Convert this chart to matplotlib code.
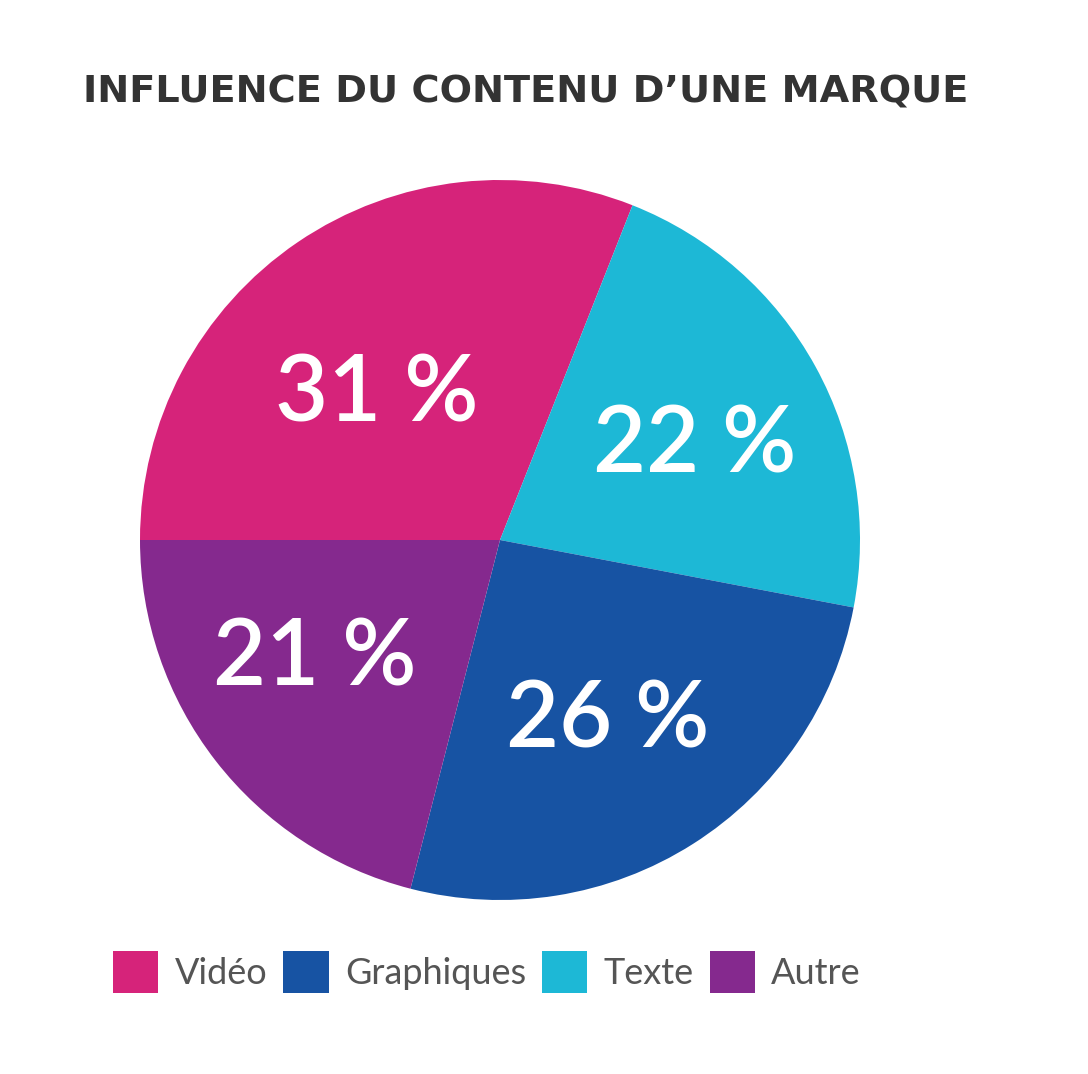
import matplotlib.pyplot as plt

# data (clockwise from the left horizontal)
labels = ["Vidéo", "Texte", "Graphiques", "Autre"]
values = [31, 22, 26, 21]
colors = ["#D6237A", "#1DB8D6", "#1753A3", "#85298E"]
legend_order = ["Vidéo", "Graphiques", "Texte", "Autre"]
# small hand nudges of the percentage labels, in pixels (x right, y down)
label_nudge = [(-8, 25), (15, 5), (-2, 8), (-23, -6)]

plt.rcParams['font.family'] = ['Lato', 'DejaVu Sans']

fig = plt.figure(figsize=(10.88, 10.74), dpi=100)
ax = fig.add_axes([140 / 1088, 1 - 900 / 1074, 720 / 1088, 720 / 1074])

wedges, texts, autotexts = ax.pie(
    values, colors=colors, startangle=180, counterclock=False,
    autopct=lambda p: f"{round(p)} %", pctdistance=0.57,
    textprops=dict(color="white", fontsize=66, fontweight='semibold'),
    wedgeprops=dict(linewidth=0))
ax.set_xlim(-1, 1)
ax.set_ylim(-1, 1)
ax.set_aspect('equal')

px = 2 / 720
for t, (dx, dy) in zip(autotexts, label_nudge):
    x, y = t.get_position()
    t.set_position((x + dx * px, y - dy * px))

fig.text(83 / 1088, 1 - 92 / 1074, "INFLUENCE DU CONTENU D\u2019UNE MARQUE",
         fontsize=27.5, fontweight='bold', family='DejaVu Sans', color="#333333",
         va='center', ha='left')

handles = [wedges[labels.index(n)] for n in legend_order]
fig.legend(handles, legend_order, loc='center', bbox_to_anchor=(487 / 1088, 1 - 972 / 1074),
           ncol=4, frameon=False, fontsize=26, labelcolor="#555555",
           handlelength=1.25, handleheight=1.45, handletextpad=0.45, columnspacing=0.45)

plt.savefig("out.png", dpi=100)
